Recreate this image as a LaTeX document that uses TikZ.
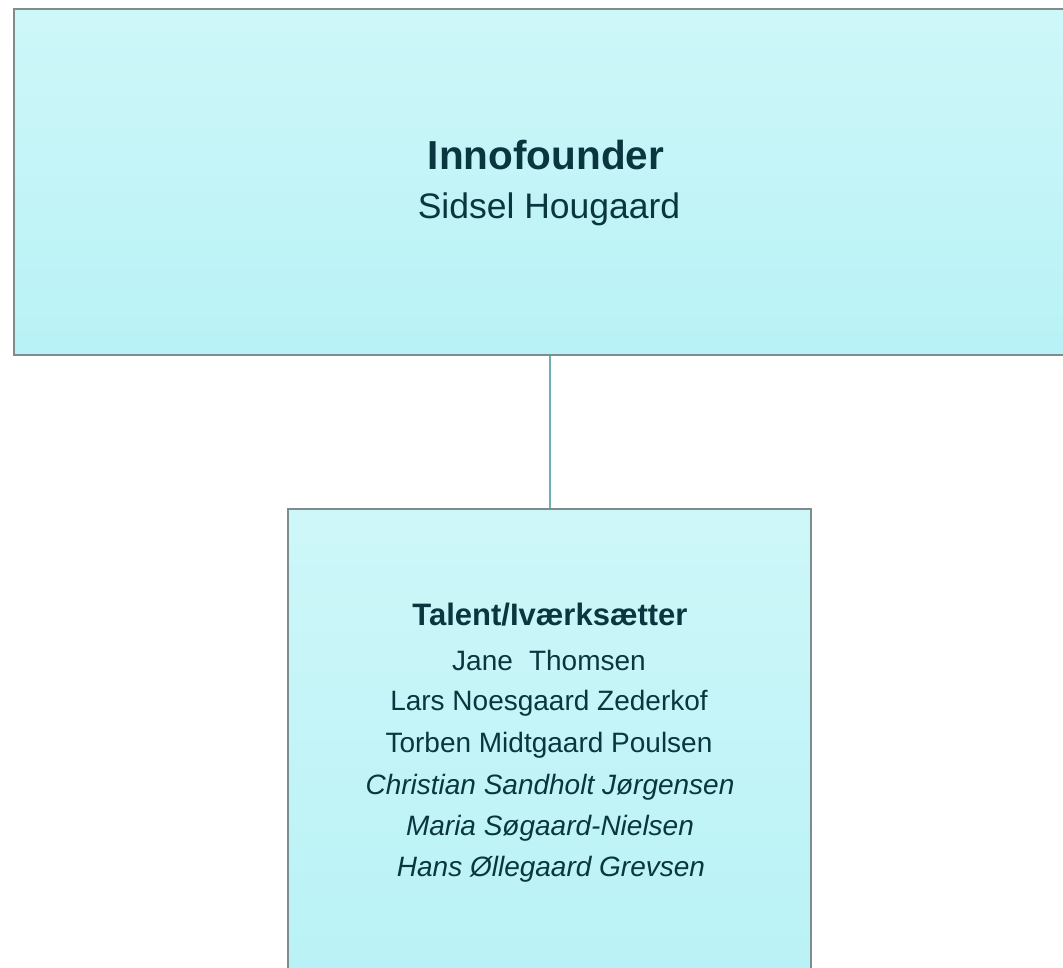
\documentclass[tikz,border=0pt]{standalone}
\usepackage{fontspec}
\setmainfont{Liberation Sans}
\usetikzlibrary{positioning}
\definecolor{boxline}{HTML}{7F8C8E}
\definecolor{boxtop}{HTML}{CEF7F9}
\definecolor{boxbottom}{HTML}{B8F2F6}
\definecolor{linkline}{HTML}{6AB0B8}
\definecolor{ink}{HTML}{0A3640}
\begin{document}
\begin{tikzpicture}[x=1pt,y=-1pt,
    box/.style={draw=boxline, line width=2pt, top color=boxtop, bottom color=boxbottom, inner sep=0pt},
    link/.style={draw=linkline, line width=2pt},
    bigtitle/.style={text=ink, font=\bfseries\fontsize{40.5}{48}\selectfont},
    bigname/.style={text=ink, font=\fontsize{35.5}{42}\selectfont},
    smalltitle/.style={text=ink, font=\bfseries\fontsize{31}{37}\selectfont},
    smallname/.style={text=ink, font=\fontsize{28}{34}\selectfont}]
   \useasboundingbox (0,0) rectangle (1063,968);
   \clip (0,0) rectangle (1063,968);
   % boxes
   \node[box, minimum width=1066pt, minimum height=346pt] (founder) at (547,182) {};
   \node[box, minimum width=523pt, minimum height=481pt] (talent) at (549.5,749.5) {};
   \draw[link] (talent.north) -- (talent.north |- founder.south);
   % top box text
   \node[bigtitle] (foundertitle) at (546,155) {Innofounder};
   \node[bigname] (foundername) at (549,209) {Sidsel Hougaard};
   % bottom box text
   \node[smalltitle] (talenttitle) at (550,615) {Talent/Iværksætter};
   \node[smallname] (jane) at (549,660) {Jane\hspace{0.3em} Thomsen};
   \node[smallname] (lars) at (549,703) {Lars Noesgaard Zederkof};
   \node[smallname] (torben) at (549,745) {Torben Midtgaard Poulsen};
   \node[smallname, font=\itshape\fontsize{28}{34}\selectfont] (christian) at (550,787) {Christian Sandholt Jørgensen};
   \node[smallname, font=\itshape\fontsize{28}{34}\selectfont] (maria) at (550,828) {Maria Søgaard-Nielsen};
   \node[smallname, font=\itshape\fontsize{28}{34}\selectfont] (hans) at (551,869) {Hans Øllegaard Grevsen};
\end{tikzpicture}
\end{document}
